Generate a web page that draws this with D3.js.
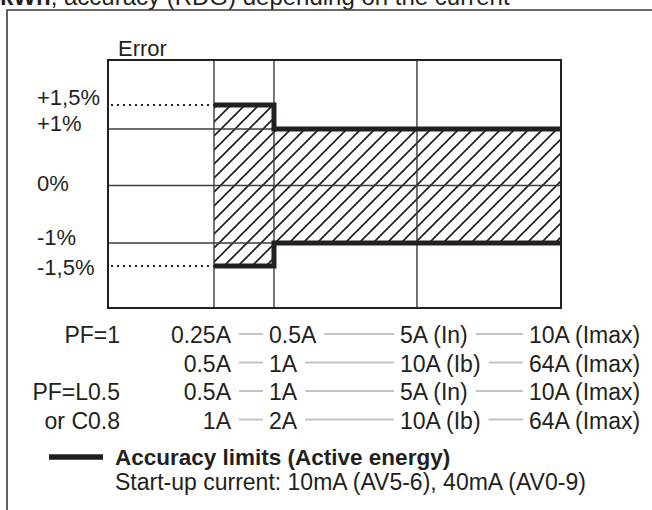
<!DOCTYPE html>
<meta charset="UTF-8">
<title>Accuracy limits</title>
<style>
  body { margin: 0; background: #fff; }
  svg { display: block; font-family: "Liberation Sans", Arial, sans-serif; }
</style>
<svg width="652" height="510"></svg>
<script src="https://cdnjs.cloudflare.com/ajax/libs/d3/7.8.5/d3.min.js"></script>
<script>
// boundaries of the current axis (index 0 = origin of the plot)
var boundaries = [0, 1, 2, 3, 4];
var gridX = [1, 2, 3];
var gridY = [1, 0, -1];

// accuracy limit steps: from boundary, to boundary, +/- limit in %
var stepFrom = [1, 2];
var stepTo = [2, 4];
var stepLimit = [1.5, 1];

var yTicks = [1.5, 1, 0, -1, -1.5];
var yTickLabels = ["+1,5%", "+1%", "0%", "-1%", "-1,5%"];
var dottedLevels = [1.5, -1.5];

var rowLabels = ["PF=1", "", "PF=L0.5", "or C0.8"];
var currentRows = [
  ["0.25A", "0.5A", "5A (In)", "10A (Imax)"],
  ["0.5A", "1A", "10A (Ib)", "64A (Imax)"],
  ["0.5A", "1A", "5A (In)", "10A (Imax)"],
  ["1A", "2A", "10A (Ib)", "64A (Imax)"]
];

var titleBold = "kWh";
var titleRest = ", accuracy (RDG) depending on the current";
var legendTitle = "Accuracy limits (Active energy)";
var legendNote = "Start-up current: 10mA (AV5-6), 40mA (AV0-9)";

var ink = "#231f20";
var svg = d3.select("svg");

var plot = {left: 108, right: 561, top: 60, bottom: 308};
var w = plot.right - plot.left;

// schematic (non-proportional) current axis
var x = d3.scaleLinear()
    .domain(boundaries)
    .range([0, 0.234, 0.3664, 0.682, 1].map(function(f) { return plot.left + f * w; }));

// schematic error axis
var y = d3.scaleLinear()
    .domain([-2.15, -1.5, -1, 0, 1, 1.5, 2.15])
    .range([308, 266, 243, 185.5, 129, 105, 60]);

// title (cut by the top of the picture, as in the source page)
var title = svg.append("text")
    .attr("x", 0)
    .attr("y", 5)
    .attr("font-size", 24)
    .attr("fill", ink);
title.append("tspan").attr("font-weight", "bold").text(titleBold);
title.append("tspan").text(titleRest);

// outer frame
svg.append("path")
    .attr("d", "M7,510V10H660")
    .attr("fill", "none")
    .attr("stroke", "#3a3a3a")
    .attr("stroke-width", 1.6);

// hatch pattern
var pat = svg.append("defs").append("pattern")
    .attr("id", "hatch")
    .attr("patternUnits", "userSpaceOnUse")
    .attr("width", 14)
    .attr("height", 14);
pat.append("path")
    .attr("d", "M-2,2L2,-2M0,14L14,0M12,16L16,12")
    .attr("stroke", ink)
    .attr("stroke-width", 1.7);

// hatched zones
svg.append("g").selectAll("rect")
  .data(stepLimit)
  .join("rect")
    .attr("x", function(d, i) { return x(stepFrom[i]); })
    .attr("width", function(d, i) { return x(stepTo[i]) - x(stepFrom[i]); })
    .attr("y", function(d) { return y(d); })
    .attr("height", function(d) { return y(-d) - y(d); })
    .attr("fill", "url(#hatch)");

// grid
var grid = svg.append("g")
    .attr("stroke", "#3c3c3c")
    .attr("stroke-width", 1.4);
grid.selectAll(".gx")
  .data(gridX)
  .join("line")
    .attr("x1", x).attr("x2", x)
    .attr("y1", plot.top).attr("y2", plot.bottom);
grid.selectAll(".gy")
  .data(gridY)
  .join("line")
    .attr("x1", plot.left).attr("x2", plot.right)
    .attr("y1", y).attr("y2", y);

// plot border
svg.append("rect")
    .attr("x", plot.left)
    .attr("y", plot.top)
    .attr("width", w)
    .attr("height", plot.bottom - plot.top)
    .attr("fill", "none")
    .attr("stroke", ink)
    .attr("stroke-width", 2);

// dotted leaders to the +/-1.5% levels
svg.append("g").selectAll("line")
  .data(dottedLevels)
  .join("line")
    .attr("x1", plot.left + 3)
    .attr("x2", x(stepFrom[0]))
    .attr("y1", y).attr("y2", y)
    .attr("stroke", ink)
    .attr("stroke-width", 1.8)
    .attr("stroke-dasharray", "2 4");

// accuracy limit lines
function limitPath(sign) {
  var pts = [];
  stepLimit.forEach(function(d, i) {
    pts.push([x(stepFrom[i]), y(sign * d)]);
    pts.push([x(stepTo[i]), y(sign * d)]);
  });
  return pts;
}
[1, -1].forEach(function(sign) {
  svg.append("path")
      .attr("d", d3.line()(limitPath(sign)))
      .attr("fill", "none")
      .attr("stroke", ink)
      .attr("stroke-width", 5)
      .attr("stroke-linejoin", "miter");
});

// y labels
var labelDy = [0, 2, 5, 2, 9];
svg.append("g").selectAll("text")
  .data(yTicks)
  .join("text")
    .attr("x", 37)
    .attr("y", function(d, i) { return y(d) + labelDy[i]; })
    .attr("font-size", 22)
    .attr("fill", ink)
    .text(function(d, i) { return yTickLabels[i]; });

svg.append("text")
    .attr("x", 118)
    .attr("y", 56)
    .attr("font-size", 22)
    .attr("fill", ink)
    .text("Error");

// current table
var rowY = [343, 371.5, 400, 428.5];
var colX = [231, 269, 400, 529];
var table = svg.append("g").attr("font-size", 23).attr("fill", ink);

table.selectAll(".rl")
  .data(rowLabels)
  .join("text")
    .attr("x", 120)
    .attr("y", function(d, i) { return rowY[i]; })
    .attr("text-anchor", "end")
    .text(function(d) { return d; });

currentRows.forEach(function(row, r) {
  var ends = [];
  row.forEach(function(label, c) {
    var t = table.append("text")
        .attr("x", colX[c])
        .attr("y", rowY[r])
        .attr("text-anchor", c === 0 ? "end" : "start")
        .text(label);
    ends.push(c === 0 ? colX[0] : colX[c] + t.node().getComputedTextLength());
  });
  for (var c = 1; c < row.length; c++) {
    table.append("line")
        .attr("x1", ends[c - 1] + 8)
        .attr("x2", colX[c] - 6)
        .attr("y1", rowY[r] - 9)
        .attr("y2", rowY[r] - 9)
        .attr("stroke", "#c4c4c4")
        .attr("stroke-width", 2);
  }
});

// legend
svg.append("line")
    .attr("x1", 49).attr("x2", 103)
    .attr("y1", 457).attr("y2", 457)
    .attr("stroke", ink)
    .attr("stroke-width", 5.5);
svg.append("text")
    .attr("x", 115)
    .attr("y", 465)
    .attr("font-size", 22.5)
    .attr("font-weight", "bold")
    .attr("fill", ink)
    .text(legendTitle);
svg.append("text")
    .attr("x", 115)
    .attr("y", 490)
    .attr("font-size", 23)
    .attr("fill", ink)
    .text(legendNote);
</script>
